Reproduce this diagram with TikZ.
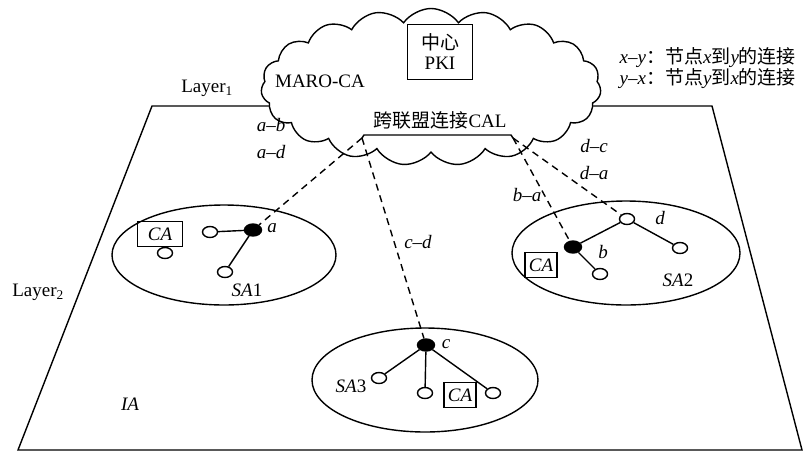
\documentclass[tikz,border=0pt]{standalone}
\usepackage{fontspec}
\setmainfont{Liberation Serif}
\newfontfamily\cjk{Noto Sans CJK SC}
\usetikzlibrary{shapes.symbols,shapes.geometric,calc}
\newcommand{\bigfont}{\fontsize{19}{22}\selectfont}
\tikzstyle{hollow}=[ellipse,draw,line width=1.4pt,fill=white,minimum width=15pt,minimum height=11pt,inner sep=0pt]
\tikzstyle{fullvertex}=[ellipse,draw,fill=black,minimum width=17pt,minimum height=12pt,inner sep=0pt]
\tikzstyle{sadomain}=[ellipse,draw,line width=1.4pt,inner sep=0pt]
\tikzstyle{cabox}=[draw,line width=1.4pt,inner xsep=4pt,inner ysep=2pt,minimum height=25pt,font=\bigfont\itshape]
\tikzstyle{tree}=[draw,line width=1.4pt]
\tikzstyle{link}=[draw,line width=1.4pt,dash pattern=on 7pt off 5pt]
\tikzstyle{weight}=[font=\bigfont\itshape]

\begin{document}
\begin{tikzpicture}[x=1pt,y=-1pt,font=\bigfont,line width=1.4pt]
   \useasboundingbox (0,0) rectangle (808,453);

   % the layer plane
   \draw (152,106) -- (712,106) -- (802,450) -- (18,450) -- cycle;

   % the cloud on top of it
   \node[cloud, draw, fill=white, cloud puffs=19, cloud puff arc=110, aspect=2.2,
         minimum width=340pt, minimum height=157pt, inner sep=0pt] (maro) at (431,87) {};
   \node[draw, align=center, minimum width=65pt, minimum height=55pt, inner sep=1pt] (pki) at (440,52) {{\cjk 中心}\\[-2pt]PKI};
   \node (maroname) at (320,81) {MARO-CA};
   \node (calname) at (440,120) {{\cjk 跨联盟连接}CAL};
   \coordinate (calL) at (362,138);
   \coordinate (calR) at (513,138);
   \draw (calL) -- ++(2,-3) -- ($(calR)+(-2,-3)$) -- (calR);

   % the three SA domains
   \node[sadomain, minimum width=224pt, minimum height=100pt] (sa1) at (224,255) {};
   \node[sadomain, minimum width=228pt, minimum height=104pt] (sa2) at (626,253) {};
   \node[sadomain, minimum width=226pt, minimum height=104pt] (sa3) at (425,380) {};

   \foreach \pos/ \name in {{(253,230)/a}, {(573,247)/b}, {(426,345)/c}}
        \node[fullvertex] (\name) at \pos {};
   \foreach \pos/ \name in {{(210,232)/a1}, {(225,272)/a2}, {(165,253)/a3},
                            {(627,219)/d}, {(680,248)/d1}, {(600,274)/b1},
                            {(379,378)/c1}, {(425,393)/c2}, {(493,393)/c3}}
        \node[hollow] (\name) at \pos {};
   \foreach \pos/ \name / \label in {{(272,228)/la/a}, {(603,252)/lb/b}, {(446,344)/lc/c}, {(660,218)/ld/d},
                                     {(247,290)/lsa1/SA\upshape 1}, {(678,280)/lsa2/SA\upshape 2},
                                     {(351,386)/lsa3/SA\upshape 3}, {(130,404)/lia/IA}}
        \node[weight] (\name) at \pos {\label};

   % CA in each domain
   \node[cabox, minimum width=45pt] (ca1) at (160,234) {CA};
   \node[cabox] (ca2) at (541,265) {CA};
   \node[cabox] (ca3) at (460,395) {CA};

   % Connect vertices with edges
   \foreach \source/ \dest in {a/a1, a/a2, b/d, d/d1, b/b1, c/c1, c/c2, c/c3}
        \draw[tree] (\source) -- (\dest);

   % links to the CAL
   \foreach \source/ \dest in {calL/a, calL/c, calR/b, calR/d}
        \draw[link] (\source) -- (\dest);
   \foreach \pos/ \name / \label in {{(271,125)/wab/a--b}, {(271,152)/wad/a--d}, {(418,242)/wcd/c--d},
                                     {(527,195)/wba/b--a}, {(594,146)/wdc/d--c}, {(594,173)/wda/d--a}}
        \node[weight] (\name) at \pos {\label};

   \node (layer1) at (207,88) {Layer\textsubscript{1}};
   \node (layer2) at (38,292) {Layer\textsubscript{2}};

   \node[right, inner sep=0pt] (legxy) at (619,58) {\textit{x}--\textit{y}{\cjk ：节点}\textit{x}{\cjk 到}\textit{y}{\cjk 的连接}};
   \node[right, inner sep=0pt] (legyx) at (619,79) {\textit{y}--\textit{x}{\cjk ：节点}\textit{y}{\cjk 到}\textit{x}{\cjk 的连接}};
\end{tikzpicture}
\end{document}
